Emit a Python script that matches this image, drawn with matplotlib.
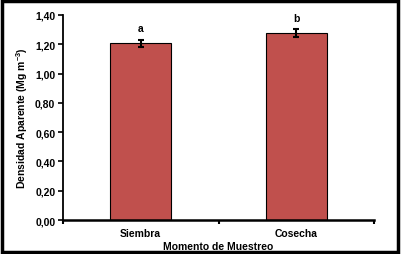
import matplotlib
matplotlib.use("Agg")
import matplotlib.pyplot as plt
from matplotlib.patches import Rectangle

# Densidad aparente segun momento de muestreo
momentos = ["Siembra", "Cosecha"]
densidad = [1.206, 1.274]
error = [0.026, 0.027]
letras = ["a", "b"]

plt.rcParams["font.family"] = ["Liberation Sans", "DejaVu Sans"]
plt.rcParams["font.weight"] = "bold"
plt.rcParams["mathtext.fontset"] = "custom"
plt.rcParams["mathtext.bf"] = "Liberation Sans:bold"
plt.rcParams["mathtext.rm"] = "Liberation Sans:bold"
plt.rcParams["mathtext.default"] = "bf"

fs = 7.5
fig = plt.figure(figsize=(4.01, 2.55), dpi=100)
ax = fig.add_axes([0.157, 0.1333, 0.776, 0.804])

x = range(len(momentos))
ax.bar(x, densidad, width=0.39, color="#c0504d", edgecolor="black", linewidth=0.8,
       yerr=error, error_kw=dict(ecolor="black", elinewidth=1.5, capsize=2.5, capthick=1.5))
for i, (v, l) in enumerate(zip(densidad, letras)):
    ax.text(i, v + 0.105, l, ha="center", va="center", fontsize=fs, fontweight="bold")

ax.set_xlim(-0.5, 1.5)
ax.set_ylim(0, 1.4)
yt = [0, 0.2, 0.4, 0.6, 0.8, 1.0, 1.2, 1.4]
ax.set_yticks(yt)
ax.set_yticklabels([("%.2f" % t).replace(".", ",") for t in yt], fontsize=fs, fontweight="bold")
ax.set_xticks([-0.5, 0.5, 1.5])
ax.set_xticklabels([])
ax.set_xticks([0, 1], minor=True)
ax.set_xticklabels(momentos, minor=True, fontsize=fs, fontweight="bold")
ax.tick_params(axis="x", which="minor", length=0, pad=6)
ax.tick_params(axis="x", which="major", length=3, width=1.5)
ax.tick_params(axis="y", length=3.5, width=1.2, pad=2)

ax.spines["top"].set_visible(False)
ax.spines["right"].set_visible(False)
ax.spines["left"].set_linewidth(1.3)
ax.spines["bottom"].set_linewidth(1.8)

ax.set_xlabel("Momento de Muestreo", fontsize=fs, fontweight="bold", labelpad=2)
ax.set_ylabel("Densidad Aparente (Mg m$^{-3}$)", fontsize=fs, fontweight="bold", labelpad=4)

fig.patches.append(Rectangle((0.004, 0.008), 0.989, 0.984, transform=fig.transFigure,
                             fill=False, edgecolor="black", linewidth=2.5))

fig.savefig("out.png", dpi=100)
